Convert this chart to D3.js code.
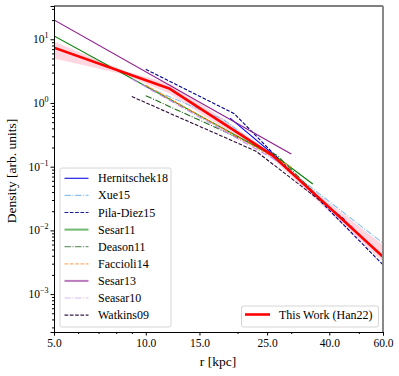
<!DOCTYPE html>
<html><head><meta charset="utf-8">
<script src="https://cdn.jsdelivr.net/npm/d3@7"></script>
<style>
html,body{margin:0;padding:0;background:#fff;}
svg text{font-family:"Liberation Serif","Times New Roman",serif;}
</style></head>
<body><div id="chart"></div>
<script>
// ---- data ----
const xTicks = [5, 10, 15, 25, 40, 60];
const xMinorTicks = [6, 7, 8, 9, 20, 30, 50];
const yTicks = [1e1, 1e0, 1e-1, 1e-2, 1e-3];
const yTickExp = ["1", "0", "\u22121", "\u22122", "\u22123"];

const hernitschekR = [18.9, 27];
const hernitschekRho = [0.58, 0.139];
const xueR = [10, 18, 60];
const xueRho = [1.8, 0.55, 0.0063];
const pilaR = [10, 19.5, 60];
const pilaRho = [3.38, 0.68, 0.00288];
const sesar11R = [5, 27.8, 35.3];
const sesar11Rho = [11.3, 0.126, 0.0536];
const deasonR = [10, 27, 40];
const deasonRho = [1.3, 0.15, 0.0225];
const faccioliR = [10, 30];
const faccioliRho = [1.9, 0.098];
const sesar13R = [5, 30];
const sesar13Rho = [20.1, 0.158];
const seasar10R = [9, 27, 48];
const seasar10Rho = [2.38, 0.123, 0.011];
const watkinsR = [9, 23, 45];
const watkinsRho = [1.26, 0.175, 0.0147];

const han22R = [5, 12, 26, 60];
const han22Rho = [7.4, 1.67, 0.152, 0.00386];
const bandR = [5, 8.5, 12, 18, 25, 40, 60];
const bandHi = [9.2, 3.2, 2.0, 0.56, 0.183, 0.027, 0.0059];
const bandLo = [5.0, 2.8, 1.4, 0.40, 0.160, 0.0195, 0.0032];

const seriesNames = ["Hernitschek18","Xue15","Pila-Diez15","Sesar11","Deason11","Faccioli14","Sesar13","Seasar10","Watkins09"];
const seriesR = [hernitschekR, xueR, pilaR, sesar11R, deasonR, faccioliR, sesar13R, seasar10R, watkinsR];
const seriesRho = [hernitschekRho, xueRho, pilaRho, sesar11Rho, deasonRho, faccioliRho, sesar13Rho, seasar10Rho, watkinsRho];
const seriesColor = ["#0000ff","#80bff5","#00008b","#008000","#1f6f1f","#ff8c1a","#8b1a8b","#c58af0","#2d0a3a"];
const legendColor = ["#2020e6","#8ec2f2","#1a1a99","#72b872","#6f9a6f","#ffb070","#bb7abb","#dcbaf2","#3a1a44"];
const legendWidth = [1.2,1.2,1.2,2,1.2,1.2,2,1.2,1.2];
const seriesDash = ["", "6.4,1.6,1,1.6", "3.7,1.6", "", "6.4,1.6,1,1.6", "3.7,1.6", "", "6.4,1.6,1,1.6", "3.7,1.6"];

// ---- layout ----
const W = 399, H = 376;
const L = 54, R = 383, T = 6, B = 332;

const svg = d3.select("#chart").append("svg").attr("width", W).attr("height", H);
const x = d3.scaleLog().domain([5, 60]).range([L, R]);
const y = d3.scaleLog().domain([2.54e-4, 33.3]).range([B, T]);

svg.append("clipPath").attr("id","clip").append("rect")
  .attr("x", L).attr("y", T).attr("width", R-L).attr("height", B-T);
const plot = svg.append("g").attr("clip-path","url(#clip)");

// band
const bandData = bandR.map((r,i)=>({r, hi: bandHi[i], lo: bandLo[i]}));
plot.append("path").datum(bandData)
  .attr("d", d3.area().x(d=>x(d.r)).y0(d=>y(d.lo)).y1(d=>y(d.hi)))
  .attr("fill", "#ffb6c8").attr("opacity", 0.55);

const line = d3.line().x(d=>x(d[0])).y(d=>y(d[1]));
seriesNames.forEach((name,i)=>{
  const pts = seriesR[i].map((r,j)=>[r, seriesRho[i][j]]);
  plot.append("path").datum(pts).attr("d", line)
    .attr("fill","none").attr("stroke", seriesColor[i]).attr("stroke-width", 1.1)
    .attr("stroke-dasharray", seriesDash[i] || null);
});
plot.append("path").datum(han22R.map((r,j)=>[r, han22Rho[j]])).attr("d", line)
  .attr("fill","none").attr("stroke","#ff0000").attr("stroke-width",2.6)
  .attr("stroke-linejoin","round");

// axes
const xAxis = svg.append("g").attr("transform",`translate(0,${B})`)
  .call(d3.axisBottom(x).tickValues(xTicks).tickFormat(d3.format(".1f")).tickSize(3.5).tickPadding(3));
svg.append("g").attr("transform",`translate(0,${B})`)
  .call(d3.axisBottom(x).tickValues(xMinorTicks).tickFormat("").tickSize(2));
xAxis.selectAll("text").attr("font-size", 11.5).attr("fill","#000");

const yMinor = [];
for (let e = -4; e <= 1; e++) for (let k = 2; k <= 9; k++) {
  const v = k * Math.pow(10, e);
  if (v >= 2.54e-4 && v <= 33.3) yMinor.push(v);
}
svg.append("g").attr("transform",`translate(${L},0)`)
  .call(d3.axisLeft(y).tickValues(yTicks).tickFormat("").tickSize(3.5));
svg.append("g").attr("transform",`translate(${L},0)`)
  .call(d3.axisLeft(y).tickValues(yMinor).tickFormat("").tickSize(2));
yTicks.forEach((v,i)=>{
  const t = svg.append("text").attr("x", 48.5).attr("y", y(v)+4).attr("text-anchor","end")
    .attr("font-size", 11.5).attr("fill","#000");
  t.append("tspan").text("10");
  t.append("tspan").attr("dy", -5).attr("font-size", 8).text(yTickExp[i]);
});
svg.selectAll(".domain").attr("stroke","#000");
svg.selectAll(".tick line").attr("stroke","#000");

// frame
svg.append("line").attr("x1",L).attr("x2",R).attr("y1",T).attr("y2",T).attr("stroke","#000");
svg.append("line").attr("x1",R).attr("x2",R).attr("y1",T).attr("y2",B).attr("stroke","#888").attr("stroke-width",2);

// axis labels
svg.append("text").attr("x", 218).attr("y", 366).attr("text-anchor","middle")
  .attr("font-size", 13.5).text("r [kpc]");
svg.append("text").attr("transform", `translate(16,${(T+B)/2+2}) rotate(-90)`)
  .attr("text-anchor","middle").attr("font-size", 13.5).text("Density [arb. units]");

// legend 1
const lg = svg.append("g");
lg.append("rect").attr("x", 60).attr("y", 168).attr("width", 111).attr("height", 159)
  .attr("rx", 2).attr("fill","#fff").attr("fill-opacity",0.8).attr("stroke","#d6d6d6");
seriesNames.forEach((name,i)=>{
  const yy = 178.3 + i*17.1;
  lg.append("line").attr("x1",64.5).attr("x2",88.5).attr("y1",yy).attr("y2",yy)
    .attr("stroke", legendColor[i]).attr("stroke-width", legendWidth[i])
    .attr("stroke-dasharray", seriesDash[i] || null);
  lg.append("text").attr("x", 98).attr("y", yy+4).attr("font-size", 12).text(name);
});
// legend 2
const lg2 = svg.append("g");
lg2.append("rect").attr("x", 241.5).attr("y", 306).attr("width", 137).attr("height", 21)
  .attr("rx", 2).attr("fill","#fff").attr("fill-opacity",0.8).attr("stroke","#d6d6d6");
lg2.append("line").attr("x1",245).attr("x2",270).attr("y1",314.5).attr("y2",314.5)
  .attr("stroke","#ff0000").attr("stroke-width",2.6);
lg2.append("text").attr("x", 279).attr("y", 318.5).attr("font-size", 12).text("This Work (Han22)");
</script></body></html>
